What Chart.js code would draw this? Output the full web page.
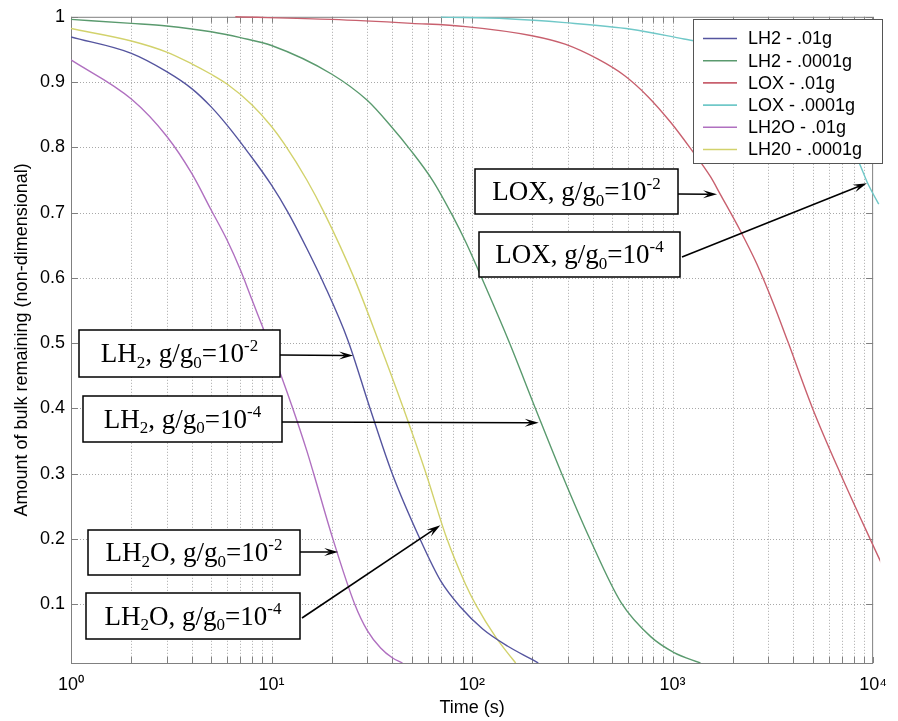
<!DOCTYPE html>
<html>
<head>
<meta charset="utf-8">
<title>Amount of bulk remaining vs time</title>
<script src="https://cdn.jsdelivr.net/npm/chart.js@4.4.1/dist/chart.umd.min.js"></script>
<style>
  html, body { margin: 0; padding: 0; background: #fff; }
  #wrap { width: 898px; height: 721px; }
</style>
</head>
<body>
<div id="wrap"><canvas id="chart" width="898" height="721"></canvas></div>
<script>
// Values: time (s) and fraction of bulk remaining
const lh2Hi_t = [1, 2, 3, 4, 5, 6, 7.65, 10, 12.1, 15, 18.3, 24, 31, 40, 55, 70, 88, 113, 150, 200, 214];
const lh2Hi_v = [0.969, 0.944, 0.916, 0.89, 0.862, 0.834, 0.792, 0.742, 0.70, 0.645, 0.59, 0.505, 0.40, 0.30, 0.20, 0.135, 0.095, 0.062, 0.036, 0.015, 0.01];

const lh2Lo_t = [1, 2, 3, 5, 7, 10, 20, 30, 40, 49, 64, 80, 93, 111, 152, 207, 280, 387, 555, 780, 1017, 1377];
const lh2Lo_v = [0.996, 0.99, 0.986, 0.977, 0.968, 0.956, 0.912, 0.872, 0.83, 0.797, 0.748, 0.695, 0.655, 0.602, 0.504, 0.40, 0.30, 0.20, 0.102, 0.05, 0.026, 0.01];

const loxHi_t = [6.6, 20, 50, 93, 199, 291, 425, 575, 752, 980, 1230, 1545, 1730, 2170, 2625, 3170, 3760, 4990, 6870, 9660, 11300];
const loxHi_v = [1.0, 0.996, 0.99, 0.985, 0.971, 0.958, 0.935, 0.91, 0.878, 0.838, 0.798, 0.755, 0.728, 0.673, 0.622, 0.562, 0.502, 0.40, 0.30, 0.20, 0.155];

const loxLo_t = [70, 150, 291, 621, 1140, 2000, 3200, 5000, 6300, 8490, 9330, 10670, 11300];
const loxLo_v = [0.9995, 0.997, 0.991, 0.981, 0.966, 0.952, 0.93, 0.885, 0.84, 0.777, 0.747, 0.713, 0.70];

const lh2oHi_t = [1, 2, 3, 4, 5, 6, 7, 8, 9, 10, 12.6, 15, 16.3, 20, 26, 30, 35, 40, 45];
const lh2oHi_v = [0.934, 0.874, 0.817, 0.76, 0.704, 0.658, 0.612, 0.566, 0.526, 0.49, 0.405, 0.335, 0.298, 0.205, 0.10, 0.06, 0.033, 0.018, 0.01];

const lh2oLo_t = [1, 2, 3, 4, 5, 6, 8, 10, 11.6, 15, 18.3, 25.8, 34, 45.5, 59, 74, 93, 105, 131, 150, 165];
const lh2oLo_v = [0.982, 0.963, 0.946, 0.928, 0.912, 0.897, 0.865, 0.832, 0.805, 0.75, 0.70, 0.60, 0.505, 0.40, 0.30, 0.205, 0.13, 0.098, 0.05, 0.026, 0.01];

const seriesLabels = ['LH2 - .01g', 'LH2 - .0001g', 'LOX - .01g', 'LOX - .0001g', 'LH2O - .01g', 'LH20 - .0001g'];
const seriesColors = ['#55559f', '#5a9a6e', '#c8606e', '#70c8c8', '#b070c0', '#d2d26c'];
const seriesT = [lh2Hi_t, lh2Lo_t, loxHi_t, loxLo_t, lh2oHi_t, lh2oLo_t];
const seriesV = [lh2Hi_v, lh2Lo_v, loxHi_v, loxLo_v, lh2oHi_v, lh2oLo_v];

// Axis ticks
const xDecades = [1, 10, 100, 1000, 10000];
const xTickValues = [];
xDecades.forEach(d => {
  for (let m = 1; m <= 9; m++) {
    if (d * m <= 10000) xTickValues.push(d * m);
  }
});
const yTickValues = [0.1, 0.2, 0.3, 0.4, 0.5, 0.6, 0.7, 0.8, 0.9, 1];
const supDigits = ['\u2070', '\u00b9', '\u00b2', '\u00b3', '\u2074'];

// Callout boxes: text parts [text, 0 normal / -1 sub / 1 sup], box in px, arrow tip in data units
const callouts = [
  { parts: [['LH', 0], ['2', -1], [', g/g', 0], ['0', -1], ['=10', 0], ['-2', 1]], box: [79, 330, 280, 377], tail: [280, 355], tip: [25.5, 0.481] },
  { parts: [['LH', 0], ['2', -1], [', g/g', 0], ['0', -1], ['=10', 0], ['-4', 1]], box: [83, 396, 282, 442], tail: [282, 422], tip: [215, 0.378] },
  { parts: [['LH', 0], ['2', -1], ['O, g/g', 0], ['0', -1], ['=10', 0], ['-2', 1]], box: [88, 530, 300, 575], tail: [300, 552], tip: [21.5, 0.18] },
  { parts: [['LH', 0], ['2', -1], ['O, g/g', 0], ['0', -1], ['=10', 0], ['-4', 1]], box: [86, 593, 300, 639], tail: [302, 618], tip: [69.5, 0.221] },
  { parts: [['LOX, g/g', 0], ['0', -1], ['=10', 0], ['-2', 1]], box: [475, 169, 678, 214], tail: [678, 194], tip: [1666, 0.728] },
  { parts: [['LOX, g/g', 0], ['0', -1], ['=10', 0], ['-4', 1]], box: [479, 232, 680, 277], tail: [682, 257], tip: [9310, 0.745] }
];

const SANS = '"Liberation Sans", Arial, Helvetica, sans-serif';
const SERIF = '"Liberation Serif", "Times New Roman", serif';

function drawRich(ctx, parts, cx, cy, size) {
  const fontFor = s => (s === 0 ? size : Math.round(size * 0.62)) + 'px ' + SERIF;
  let w = 0;
  parts.forEach(([txt, s]) => { ctx.font = fontFor(s); w += ctx.measureText(txt).width; });
  let x = cx - w / 2;
  const base = cy + size * 0.32;
  ctx.textAlign = 'left';
  ctx.textBaseline = 'alphabetic';
  ctx.fillStyle = '#000';
  parts.forEach(([txt, s]) => {
    ctx.font = fontFor(s);
    const dy = s < 0 ? size * 0.2 : (s > 0 ? -size * 0.4 : 0);
    ctx.fillText(txt, x, base + dy);
    x += ctx.measureText(txt).width;
  });
}

function drawArrow(ctx, x0, y0, x1, y1) {
  const a = Math.atan2(y1 - y0, x1 - x0);
  const c = Math.cos(a), s = Math.sin(a);
  const len = 14, half = 4;
  ctx.strokeStyle = '#000';
  ctx.fillStyle = '#000';
  ctx.lineWidth = 1.6;
  ctx.beginPath();
  ctx.moveTo(x0, y0);
  ctx.lineTo(x1 - c * len * 0.6, y1 - s * len * 0.6);
  ctx.stroke();
  ctx.beginPath();
  ctx.moveTo(x1, y1);
  ctx.lineTo(x1 - c * len + s * half, y1 - s * len - c * half);
  ctx.lineTo(x1 - c * len * 0.6, y1 - s * len * 0.6);
  ctx.lineTo(x1 - c * len - s * half, y1 - s * len + c * half);
  ctx.closePath();
  ctx.fill();
}

// Dotted grid, axes frame and inward ticks (drawn under the curves)
const framePlugin = {
  id: 'frame',
  beforeDatasetsDraw(chart) {
    const { ctx, chartArea: ca, scales } = chart;
    ctx.save();
    ctx.strokeStyle = '#a8a8a8';
    ctx.lineWidth = 1;
    ctx.setLineDash([1, 2]);
    ctx.beginPath();
    xTickValues.forEach(v => {
      const px = Math.round(scales.x.getPixelForValue(v)) + 0.5;
      if (px > ca.left + 2 && px < ca.right - 2) {
        ctx.moveTo(px, ca.top); ctx.lineTo(px, ca.bottom);
      }
    });
    yTickValues.forEach(v => {
      const py = Math.round(scales.y.getPixelForValue(v)) + 0.5;
      if (py > ca.top + 2) {
        ctx.moveTo(ca.left, py); ctx.lineTo(ca.right, py);
      }
    });
    ctx.stroke();
    ctx.setLineDash([]);

    ctx.strokeStyle = '#808080';
    ctx.strokeRect(ca.left + 0.5, ca.top + 0.5, ca.right - ca.left - 1, ca.bottom - ca.top);
    ctx.beginPath();
    xTickValues.forEach(v => {
      const px = Math.round(scales.x.getPixelForValue(v)) + 0.5;
      ctx.moveTo(px, ca.bottom); ctx.lineTo(px, ca.bottom - 6);
      ctx.moveTo(px, ca.top); ctx.lineTo(px, ca.top + 6);
    });
    yTickValues.forEach(v => {
      const py = Math.round(scales.y.getPixelForValue(v)) + 0.5;
      ctx.moveTo(ca.left, py); ctx.lineTo(ca.left + 7, py);
      ctx.moveTo(ca.right, py); ctx.lineTo(ca.right - 7, py);
    });
    ctx.stroke();
    ctx.restore();
  }
};

// Legend box and callouts (drawn over the curves)
const overlayPlugin = {
  id: 'overlay',
  afterDatasetsDraw(chart) {
    const { ctx, scales } = chart;
    ctx.save();

    // legend
    const lx = 693, ly = 19, lw = 189, lh = 144;
    ctx.fillStyle = '#fff';
    ctx.fillRect(lx, ly, lw, lh);
    ctx.strokeStyle = '#555';
    ctx.lineWidth = 1;
    ctx.strokeRect(lx + 0.5, ly + 0.5, lw, lh);
    ctx.font = '18px ' + SANS;
    ctx.textAlign = 'left';
    ctx.textBaseline = 'middle';
    chart.data.datasets.forEach((ds, i) => {
      const y = 38.5 + i * 22.2;
      ctx.strokeStyle = ds.borderColor;
      ctx.lineWidth = 1.6;
      ctx.beginPath();
      ctx.moveTo(703, y); ctx.lineTo(737, y);
      ctx.stroke();
      ctx.fillStyle = '#000';
      ctx.fillText(ds.label, 748, y + 1);
    });

    // callouts
    callouts.forEach(cb => {
      const [x0, y0, x1, y1] = cb.box;
      const tx = scales.x.getPixelForValue(cb.tip[0]);
      const ty = scales.y.getPixelForValue(cb.tip[1]);
      drawArrow(ctx, cb.tail[0], cb.tail[1], tx, ty);
      ctx.fillStyle = '#fff';
      ctx.fillRect(x0, y0, x1 - x0, y1 - y0);
      ctx.strokeStyle = '#000';
      ctx.lineWidth = 1.5;
      ctx.strokeRect(x0, y0, x1 - x0, y1 - y0);
      drawRich(ctx, cb.parts, (x0 + x1) / 2, (y0 + y1) / 2, 27);
    });
    ctx.restore();
  }
};

const datasets = seriesLabels.map((label, i) => ({
  label: label,
  data: seriesT[i].map((t, k) => ({ x: t, y: seriesV[i][k] })),
  borderColor: seriesColors[i],
  backgroundColor: seriesColors[i],
  borderWidth: 1.4,
  pointRadius: 0,
  fill: false,
  cubicInterpolationMode: 'monotone',
  clip: { left: 0, top: 2, right: 7, bottom: 0 }
}));

// grid lines are drawn by framePlugin; the library's own grid stays invisible
const hiddenGrid = { display: true, drawTicks: false, color: 'rgba(0,0,0,0)' };

new Chart(document.getElementById('chart'), {
  type: 'line',
  data: { datasets: datasets },
  options: {
    responsive: false,
    devicePixelRatio: 1,
    animation: false,
    layout: { padding: { top: 16, right: 13, left: 0, bottom: 0 } },
    plugins: {
      legend: { display: false },
      tooltip: { enabled: false }
    },
    scales: {
      x: {
        type: 'logarithmic',
        min: 1,
        max: 10000,
        afterBuildTicks: s => { s.ticks = xTickValues.map(v => ({ value: v })); },
        afterFit: s => { s.height = 58; },
        grid: hiddenGrid,
        border: { display: false },
        ticks: {
          autoSkip: false,
          maxRotation: 0,
          padding: 11,
          color: '#000',
          font: { family: SANS, size: 18 },
          callback: v => {
            const e = Math.round(Math.log10(v));
            return Math.abs(Math.pow(10, e) - v) < 1e-9 ? '10' + supDigits[e] : '';
          }
        },
        title: {
          display: true,
          text: 'Time (s)',
          color: '#000',
          font: { family: SANS, size: 18 },
          padding: { top: 0, bottom: 2 }
        }
      },
      y: {
        type: 'linear',
        min: 0.01,
        max: 1,
        afterBuildTicks: s => { s.ticks = yTickValues.map(v => ({ value: v })); },
        afterFit: s => { s.width = 71; },
        grid: hiddenGrid,
        border: { display: false },
        ticks: {
          padding: 6,
          color: '#000',
          font: { family: SANS, size: 18 },
          callback: v => String(v)
        },
        title: {
          display: true,
          text: 'Amount of bulk remaining (non-dimensional)',
          color: '#000',
          font: { family: SANS, size: 18 },
          padding: { top: 11, bottom: 0 }
        }
      }
    }
  },
  plugins: [framePlugin, overlayPlugin]
});
</script>
</body>
</html>
